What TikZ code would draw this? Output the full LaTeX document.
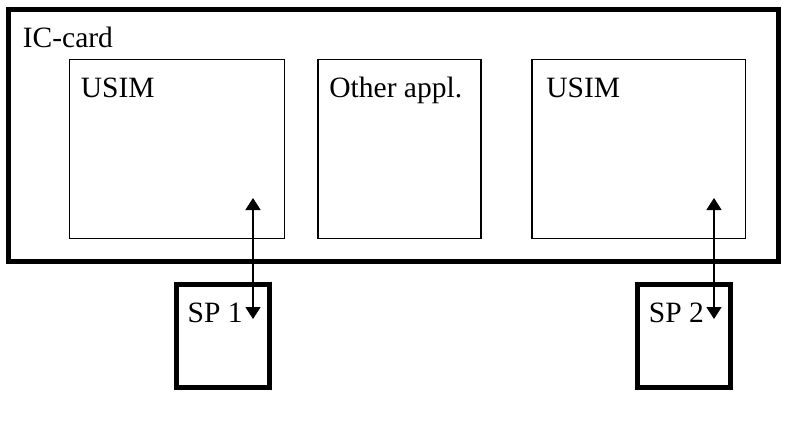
\documentclass[tikz,border=0pt]{standalone}
\usepackage{fontspec}
\setmainfont{Liberation Serif}
\usetikzlibrary{arrows.meta}
\begin{document}
\begin{tikzpicture}[x=0.5pt, y=-0.5pt, >={Triangle[width=7.5pt,length=6pt]},
    font=\fontsize{14.75}{17}\selectfont,
    appbox/.style={draw, line width=0.75pt, inner sep=0pt, outer sep=0pt, minimum height=89.5pt},
    thickbox/.style={draw, line width=2.5pt, inner sep=0pt, outer sep=0pt},
    title/.style={anchor=base west, inner sep=0pt, xshift=5.5pt, yshift=-18.75pt}]
    \useasboundingbox (0,0) rectangle (787,423);

    % Karte
    \node[thickbox, minimum width=384.75pt, minimum height=125.75pt,
          label={[title, xshift=1.5pt]north west:IC-card}] (card) at (393.25,135.25) {};

    % Anwendungen
    \node[appbox, minimum width=107.5pt, label={[title]north west:USIM}] (usimA) at (177,149) {};
    \node[appbox, minimum width=81.5pt, label={[title]north west:Other appl.}] (other) at (399.5,149) {};
    \node[appbox, minimum width=106.75pt, label={[title, xshift=1.5pt]north west:USIM}] (usimB) at (638.75,149) {};

    % Service Provider
    \node[thickbox, minimum width=46.75pt, minimum height=51.5pt, label={[title]north west:SP 1}] (spA) at (223,336) {};
    \node[thickbox, minimum width=46.5pt, minimum height=51.5pt, label={[title]north west:SP 2}] (spB) at (684,336) {};

    % Verbindungen
    \coordinate (a1) at (253,198);
    \coordinate (a2) at (253,319);
    \coordinate (b1) at (714,198);
    \coordinate (b2) at (714,319);
    \draw[<->, line width=0.8pt] (a1) -- (a2);
    \draw[<->, line width=0.8pt] (b1) -- (b2);
\end{tikzpicture}
\end{document}
